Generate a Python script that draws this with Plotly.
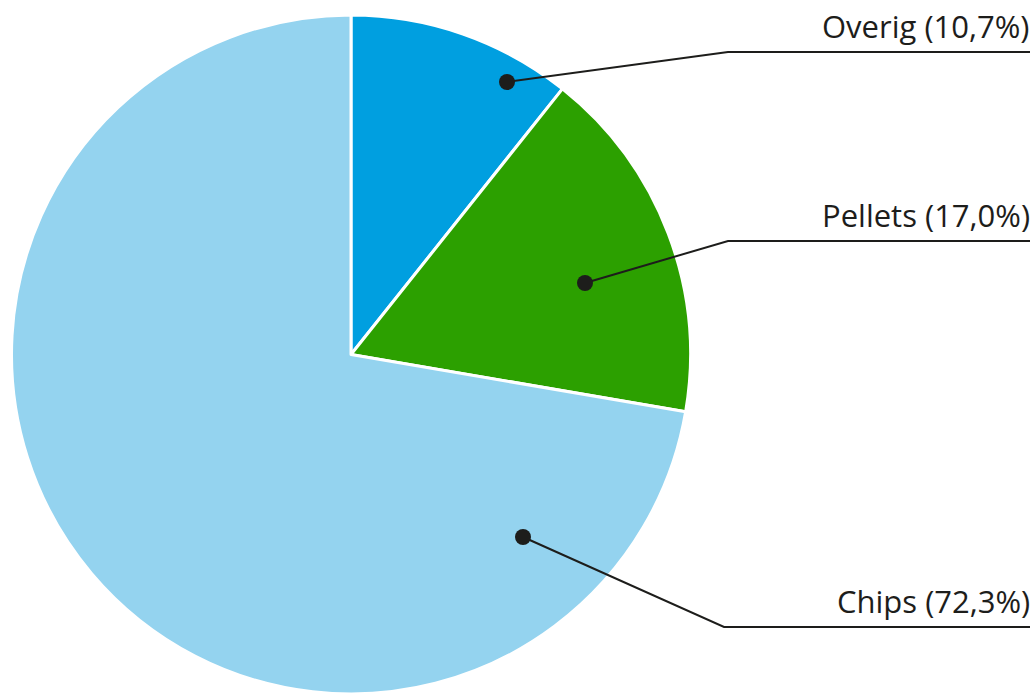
import plotly.graph_objects as go

labels = ["Overig", "Pellets", "Chips"]
values = [10.7, 17.0, 72.3]
label_texts = ["Overig (10,7%)", "Pellets (17,0%)", "Chips (72,3%)"]
colors = ["#009FE0", "#2CA000", "#94D3EF"]

# callout geometry in pixel coordinates (dot, elbow, line end)
dot_pos = [(507, 82), (585, 283), (523, 537)]
elbow_pos = [(728, 52), (728, 241), (724, 627)]
line_end_x = 1030

W, H = 1035, 694
INK = "#1d1d1b"
fig = go.Figure()
fig.add_trace(go.Pie(
    labels=labels, values=values, sort=False, direction="clockwise",
    rotation=0, textinfo="none", hoverinfo="label+percent",
    marker=dict(colors=colors, line=dict(color="white", width=3)),
    domain=dict(x=[11 / W, 691 / W], y=[0, 1 - 15 / H]),
    showlegend=False,
))
# invisible trace to set up pixel-based axes
fig.add_trace(go.Scatter(x=[0, W], y=[0, H], mode="markers",
                         marker=dict(opacity=0), hoverinfo="skip", showlegend=False))

for (dx, dy), (ex, ey), txt in zip(dot_pos, elbow_pos, label_texts):
    fig.add_shape(type="path", xref="x", yref="y", layer="above",
                  path=f"M {dx},{dy} L {ex},{ey} L {line_end_x},{ey}",
                  line=dict(color=INK, width=2))
    r = 8
    fig.add_shape(type="circle", xref="x", yref="y", layer="above",
                  x0=dx - r, x1=dx + r, y0=dy - r, y1=dy + r,
                  fillcolor=INK, line=dict(width=0))
    fig.add_annotation(
        x=line_end_x + 2, y=ey - 26, xref="x", yref="y", text=txt, showarrow=False,
        xanchor="right", yanchor="middle",
        font=dict(family="Open Sans", size=31, color="#1d1d1b"),
    )

fig.update_layout(
    width=W, height=H, margin=dict(l=0, r=0, t=0, b=0),
    paper_bgcolor="white", plot_bgcolor="rgba(0,0,0,0)",
    xaxis=dict(range=[0, W], visible=False, fixedrange=True),
    yaxis=dict(range=[H, 0], visible=False, fixedrange=True),
)
fig.write_html("out.html", config={"displayModeBar": False},
               post_script="document.body.style.margin='0';document.body.style.overflow='hidden';")
